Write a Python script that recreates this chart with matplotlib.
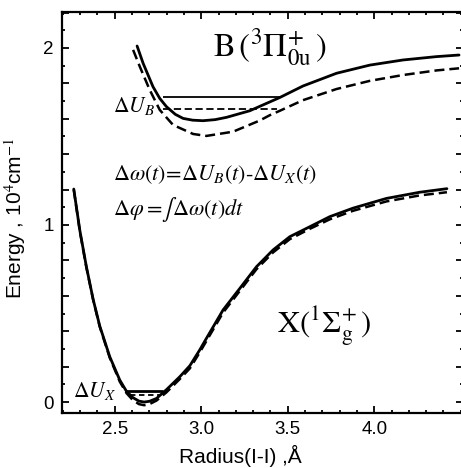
import matplotlib
matplotlib.use("Agg")
import matplotlib.pyplot as plt
from matplotlib.ticker import MultipleLocator, FixedLocator, FuncFormatter

plt.rcParams["font.family"] = ["Liberation Sans", "DejaVu Sans"]
plt.rcParams["mathtext.fontset"] = "stix"

# ground state X, two curves (solid / dashed)
x_r = [2.263, 2.298, 2.336, 2.375, 2.413, 2.471, 2.529, 2.568, 2.605, 2.640,
       2.670, 2.700, 2.741, 2.799, 2.876, 2.934, 2.991, 3.030, 3.126, 3.223,
       3.319, 3.415, 3.512, 3.627, 3.743, 3.877, 4.070, 4.263, 4.420]
x_solid = [1.203, 0.970, 0.764, 0.580, 0.430, 0.256, 0.124, 0.060, 0.025, 0.005,
           0.000, 0.004, 0.020, 0.070, 0.143, 0.205, 0.294, 0.360, 0.520, 0.642,
           0.764, 0.859, 0.934, 0.990, 1.047, 1.095, 1.150, 1.185, 1.205]
x_dash = [1.200, 0.965, 0.760, 0.578, 0.426, 0.250, 0.115, 0.050, 0.010, -0.012,
          -0.018, -0.012, 0.008, 0.055, 0.130, 0.190, 0.280, 0.345, 0.505, 0.628,
          0.750, 0.845, 0.920, 0.978, 1.032, 1.080, 1.133, 1.167, 1.185]

# excited state B
b_r = [2.629, 2.664, 2.721, 2.760, 2.799, 2.850, 2.895, 2.950, 3.010, 3.080,
       3.146, 3.280, 3.396, 3.454, 3.588, 3.782, 3.974, 4.166, 4.360, 4.490]
b_solid = [2.011, 1.913, 1.781, 1.715, 1.668, 1.625, 1.602, 1.592, 1.589, 1.595,
           1.608, 1.645, 1.695, 1.720, 1.785, 1.857, 1.903, 1.932, 1.951, 1.960]
b_dash_r = [2.606, 2.645, 2.702, 2.760, 2.837, 2.953, 3.030, 3.184, 3.338, 3.396,
            3.454, 3.588, 3.782, 3.974, 4.166, 4.360, 4.490]
b_dash = [1.989, 1.894, 1.763, 1.650, 1.565, 1.514, 1.503, 1.527, 1.590, 1.620,
          1.645, 1.705, 1.768, 1.814, 1.847, 1.873, 1.885]

# energy-difference markers
dUB_solid = ([2.777, 3.454], 1.723)
dUB_dash = ([2.777, 3.436], 1.655)
dUX_solid = ([2.558, 2.777], 0.062)
dUX_dash = ([2.590, 2.770], 0.040)

x_ticks = [2.5, 3.0, 3.5, 4.0]

fig = plt.figure(figsize=(4.61, 4.68), dpi=100)
ax = fig.add_axes([62 / 461, 55 / 468, 400.5 / 461, 401 / 468])

ax.plot(x_r, x_solid, color="black", lw=2.0, solid_capstyle="round")
ax.plot(x_r, x_dash, color="black", lw=1.8, ls=(0, (4, 2)))
ax.plot(b_r, b_solid, color="black", lw=2.0, solid_capstyle="round")
ax.plot(b_dash_r, b_dash, color="black", lw=1.8, ls=(0, (4, 2)))

ax.hlines(dUB_solid[1], *dUB_solid[0], color="black", lw=1.3)
ax.hlines(dUB_dash[1], *dUB_dash[0], color="black", lw=1.3, ls=(0, (4, 2)))
ax.hlines(dUX_solid[1], *dUX_solid[0], color="black", lw=2.0)
ax.hlines(dUX_dash[1], *dUX_dash[0], color="black", lw=1.3, ls=(0, (3, 2)))

ax.set_xlim(2.195, 4.51)
ax.set_ylim(-0.062, 2.203)

ax.xaxis.set_major_locator(FixedLocator(x_ticks))
ax.xaxis.set_minor_locator(MultipleLocator(0.1))
ax.yaxis.set_major_locator(MultipleLocator(0.2))
ax.yaxis.set_minor_locator(MultipleLocator(0.1))
ax.yaxis.set_major_formatter(
    FuncFormatter(lambda v, p: f"{v:.0f}" if abs(v - round(v)) < 1e-6 else ""))
ax.tick_params(which="both", direction="in", top=True, right=True, width=1.3)
ax.tick_params(which="major", length=5, labelsize=13.5, pad=6)
ax.tick_params(which="minor", length=2.5)
for s in ax.spines.values():
    s.set_linewidth(1.6)

ax.set_xlabel("Radius(I-I) ,Å", fontsize=15)
ax.set_ylabel("Energy , 10$^4$cm$^{-1}$", fontsize=15)
ax.xaxis.set_label_coords(0.446, -0.08)
ax.yaxis.set_label_coords(-0.085, 0.486)

ax.text(3.066, 1.95, r"$\mathrm{B}\,(^{3}\Pi^{+}_{0\mathrm{u}}\,)$", fontsize=23.5)
ax.text(3.436, 0.39, r"$\mathrm{X}(^{1}\Sigma^{+}_{\mathrm{g}}\,)$", fontsize=22)
ax.text(2.488, 1.638, r"$\mathit{\Delta U_B}$", fontsize=15.5)
ax.text(2.257, 0.03, r"$\mathit{\Delta U_X}$", fontsize=15.5)
ax.text(2.488, 1.254,
        r"$\mathit{\Delta\omega(t)\!=\!\Delta U_B(t)\text{-}\Delta U_X(t)}$",
        fontsize=16)
ax.text(2.488, 1.056, r"$\mathit{\Delta\varphi=\!\int\Delta\omega(t)dt}$",
        fontsize=16)

fig.savefig("out.png", dpi=100)
